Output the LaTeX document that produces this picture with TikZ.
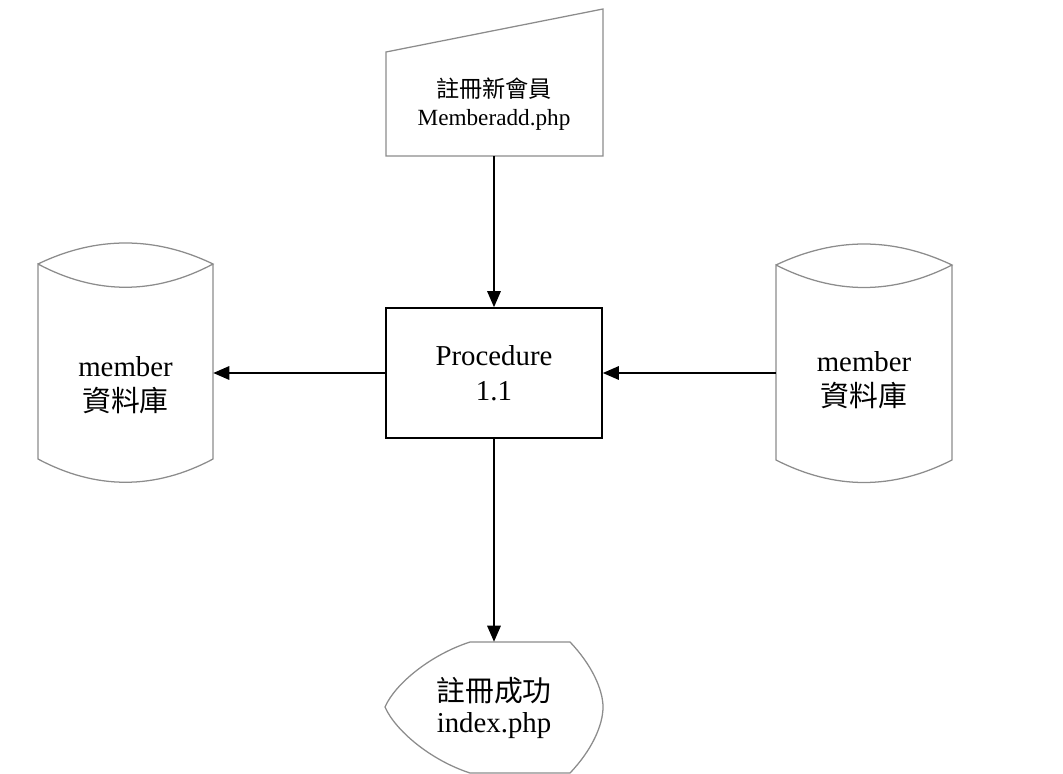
\documentclass[tikz,border=0pt]{standalone}
\usepackage{fontspec}
\setmainfont{Liberation Serif}
\newfontfamily\cjk{Noto Sans CJK TC}
\usetikzlibrary{arrows.meta}

\begin{document}
\begin{tikzpicture}[x=0.025cm, y=-0.025cm,
			outline/.style={draw=black!45, line width=0.9pt},
			flow/.style={-{Triangle[length=4mm, width=3.4mm]}, line width=0.9pt},
			box/.style={
				align = center,
				inner sep = 0mm,
				font = \fontsize{20.5}{25}\selectfont}]
			\useasboundingbox (0, 0) rectangle (1063, 774);
			% shape outlines
			\draw[outline] (386, 52) -- (603, 9) -- (603, 156) -- (386, 156) -- cycle;
			\draw[outline] (38, 264) .. controls (96, 236) and (155, 236) .. (213, 264)
				.. controls (155, 295) and (96, 295) .. (38, 264)
				-- (38, 459) .. controls (96, 490) and (155, 490) .. (213, 459) -- (213, 264);
			\draw[outline] (776, 265) .. controls (835, 237) and (893, 237) .. (952, 265)
				.. controls (893, 295) and (835, 295) .. (776, 265)
				-- (776, 460) .. controls (835, 490) and (893, 490) .. (952, 460) -- (952, 265);
			\draw[outline] (470, 642) -- (570, 642)
				.. controls (592, 665) and (603, 690) .. (603, 707)
				.. controls (603, 725) and (592, 750) .. (570, 773) -- (470, 773)
				.. controls (430, 760) and (395, 730) .. (385, 707)
				.. controls (395, 684) and (430, 655) .. (470, 642);
			% nodes
			\node at (494, 104) [box, minimum width = 5.425cm, minimum height = 2.6cm,
				font = \fontsize{16.5}{20}\selectfont] (input) {{\cjk 註冊新會員}\\Memberadd.php};
			\node at (494, 373) [box, draw, line width = 1.2pt,
				minimum width = 5.4cm, minimum height = 3.25cm] (proc) {Procedure\\1.1};
			\node at (125.5, 385) [box, minimum width = 4.375cm] (dbL) {member\\{\cjk 資料庫}};
			\node at (864, 380) [box, minimum width = 4.4cm] (dbR) {member\\{\cjk 資料庫}};
			\node at (494, 707.5) [box, minimum width = 5.45cm, minimum height = 3.275cm,
				font = \fontsize{20.5}{22}\selectfont] (out) {{\cjk 註冊成功}\\index.php};
			% connectors
			\draw[flow] (input) -- (proc);
			\draw[flow] (proc.west) -- (proc.west -| dbL.east);
			\draw[flow] (dbR.west |- proc.east) -- (proc.east);
			\draw[flow] (proc) -- (out);
\end{tikzpicture}
\end{document}
